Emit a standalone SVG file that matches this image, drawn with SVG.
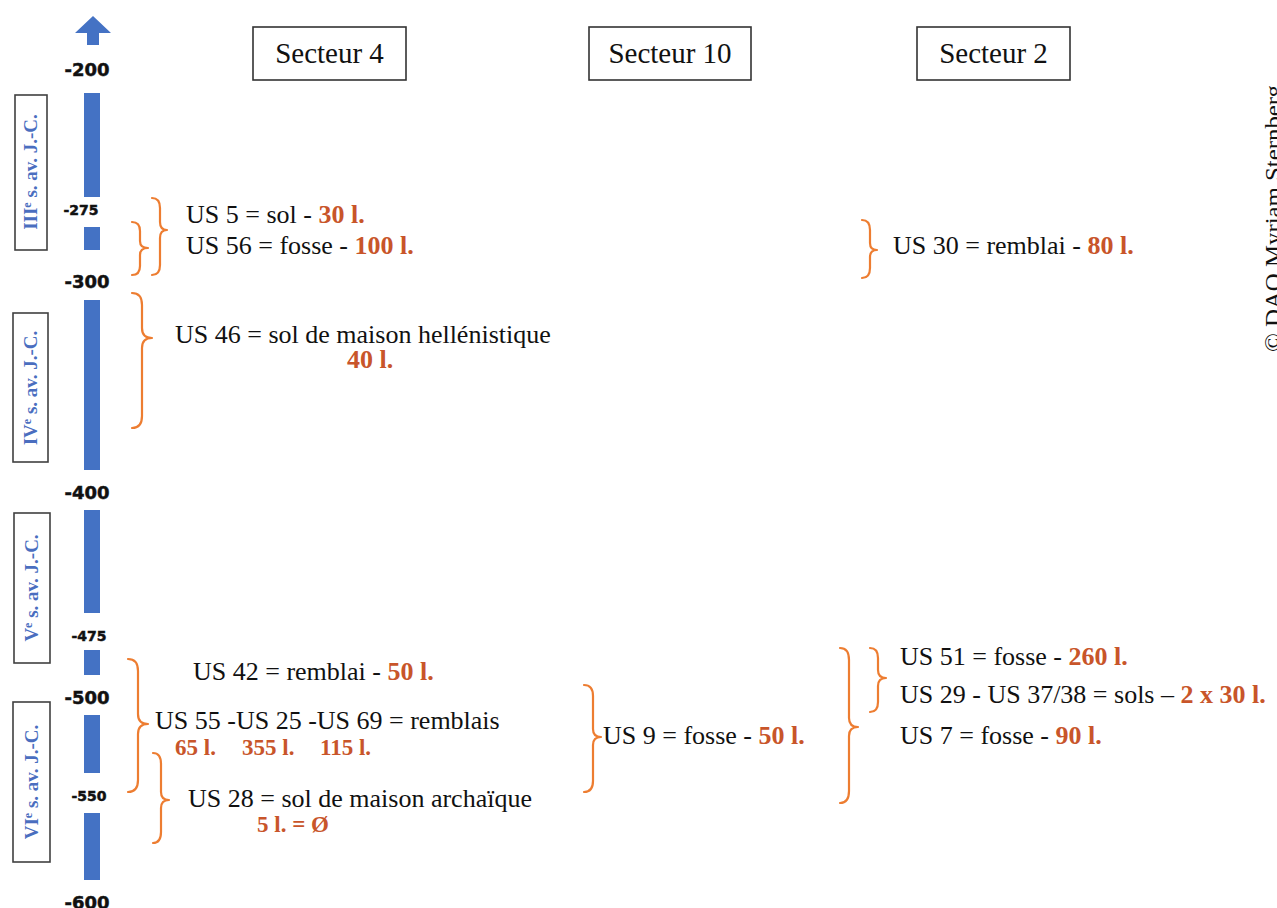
<svg xmlns="http://www.w3.org/2000/svg" width="1277" height="908" viewBox="0 0 1277 908">
<style>
.bg{fill:#ffffff}
.bar{fill:#4472c4}
.tick{font-family:"DejaVu Sans","Liberation Sans",sans-serif;font-weight:bold;fill:#111;stroke:#111;stroke-width:0.5;text-anchor:middle}
.tb{font-size:18px}
.ts{font-size:14px}
.pbox{fill:#fff;stroke:#404040;stroke-width:1.6}
.ptxt{font-family:"Liberation Serif",serif;font-weight:bold;font-size:19px;fill:#4a6ebf;text-anchor:middle}
.sbox{fill:#fff;stroke:#333;stroke-width:1.6}
.stxt{font-family:"Liberation Serif",serif;font-size:29px;fill:#111;text-anchor:middle}
.t{font-family:"Liberation Serif",serif;font-size:26px;fill:#111}
.o{font-family:"Liberation Serif",serif;font-size:26px;font-weight:bold;fill:#c8552a}
.os{font-size:23px}
.br{fill:none;stroke:#ed7d31;stroke-width:2.2;stroke-linecap:round;stroke-linejoin:round}
.cp{font-family:"Liberation Serif",serif;font-size:23px;fill:#111}
</style>
<rect class="bg" x="0" y="0" width="1277" height="908"/>

<g id="axis">
  <path class="bar" d="M87,45 L87,33 L75,33 L93,16 L111,33 L99,33 L99,45 Z"/>
  <rect class="bar" x="84" y="93" width="16" height="104"/>
  <rect class="bar" x="84" y="227" width="16" height="23"/>
  <rect class="bar" x="84" y="300" width="16" height="170"/>
  <rect class="bar" x="84" y="510" width="16" height="103"/>
  <rect class="bar" x="84" y="650" width="16" height="25"/>
  <rect class="bar" x="84" y="715" width="16" height="58"/>
  <rect class="bar" x="84" y="813" width="16" height="67"/>
  <text class="tick tb" x="87" y="76">-200</text>
  <text class="tick ts" x="81" y="215">-275</text>
  <text class="tick tb" x="87" y="288">-300</text>
  <text class="tick tb" x="87" y="499">-400</text>
  <text class="tick ts" x="89" y="641">-475</text>
  <text class="tick tb" x="87" y="704">-500</text>
  <text class="tick ts" x="89" y="801">-550</text>
  <text class="tick tb" x="87" y="909">-600</text>
</g>

<g id="period-3">
  <rect class="pbox" x="15" y="95" width="32" height="155"/>
  <text class="ptxt" transform="translate(37,172) rotate(-90)">III<tspan font-size="12" dy="-6">e</tspan><tspan dy="6"> s. av. J.-C.</tspan></text>
</g>
<g id="period-4">
  <rect class="pbox" x="13" y="313" width="35" height="149"/>
  <text class="ptxt" transform="translate(37,388) rotate(-90)">IV<tspan font-size="12" dy="-6">e</tspan><tspan dy="6"> s. av. J.-C.</tspan></text>
</g>
<g id="period-5">
  <rect class="pbox" x="14" y="513" width="36" height="150"/>
  <text class="ptxt" transform="translate(38,588) rotate(-90)">V<tspan font-size="12" dy="-6">e</tspan><tspan dy="6"> s. av. J.-C.</tspan></text>
</g>
<g id="period-6">
  <rect class="pbox" x="13" y="702" width="37" height="160"/>
  <text class="ptxt" transform="translate(38,782) rotate(-90)">VI<tspan font-size="12" dy="-6">e</tspan><tspan dy="6"> s. av. J.-C.</tspan></text>
</g>

<g id="secteur-4">
  <rect class="sbox" x="253" y="27" width="153" height="53"/>
  <text class="stxt" x="329.5" y="63">Secteur 4</text>
</g>
<g id="secteur-10">
  <rect class="sbox" x="589" y="27" width="162" height="53"/>
  <text class="stxt" x="670" y="63">Secteur 10</text>
</g>
<g id="secteur-2">
  <rect class="sbox" x="917" y="27" width="153" height="53"/>
  <text class="stxt" x="993.5" y="63">Secteur 2</text>
</g>

<g id="connectors">
  <path class="br" d="M152,198 Q160,198 160,208 L160,222 Q160,230 167,230 Q160,230 160,238 L160,265 Q160,275 152,275"/>
  <path class="br" d="M132,222 Q140,222 140,231 L140,241 Q140,248 148,248 Q140,248 140,255 L140,266 Q140,275 132,275"/>
  <path class="br" d="M132,293 Q142,293 142,305 L142,328 Q142,338 152,338 Q142,338 142,348 L142,416 Q142,428 132,428"/>
  <path class="br" d="M862,220 Q870,220 870,230 L870,243 Q870,250 877,250 Q870,250 870,257 L870,268 Q870,278 862,278"/>
  <path class="br" d="M128,659 Q138,659 138,671 L138,714 Q138,724 148,724 Q138,724 138,734 L138,780 Q138,792 128,792"/>
  <path class="br" d="M153,753 Q161,753 161,764 L161,792 Q161,800 169,800 Q161,800 161,808 L161,832 Q161,843 153,843"/>
  <path class="br" d="M584,685 Q593,685 593,696 L593,729 Q593,737 601,737 Q593,737 593,745 L593,781 Q593,792 584,792"/>
  <path class="br" d="M840,648 Q849,648 849,660 L849,718 Q849,727 858,727 Q849,727 849,736 L849,791 Q849,803 840,803"/>
  <path class="br" d="M870,648 Q878,648 878,658 L878,670 Q878,678 886,678 Q878,678 878,686 L878,702 Q878,712 870,712"/>
</g>

<g id="us5">
  <text class="t" x="186" y="223">US 5 = sol - <tspan class="o">30 l.</tspan></text>
</g>
<g id="us56">
  <text class="t" x="186" y="254">US 56 = fosse - <tspan class="o">100 l.</tspan></text>
</g>
<g id="us46">
  <text class="t" x="175" y="343">US 46 = sol de maison hellénistique</text>
  <text class="o" x="347" y="368">40 l.</text>
</g>
<g id="us30">
  <text class="t" x="893" y="254">US 30 = remblai - <tspan class="o">80 l.</tspan></text>
</g>
<g id="us42">
  <text class="t" x="193" y="680">US 42 = remblai - <tspan class="o">50 l.</tspan></text>
</g>
<g id="us55-25-69">
  <text class="t" x="155" y="729">US 55 -US 25 -US 69 = remblais</text>
  <text class="o os" x="175" y="755">65 l.</text>
  <text class="o os" x="242" y="755">355 l.</text>
  <text class="o os" x="320" y="755">115 l.</text>
</g>
<g id="us28">
  <text class="t" x="188" y="807">US 28 = sol de maison archaïque</text>
  <text class="o os" x="257" y="832">5 l. = Ø</text>
</g>
<g id="us9">
  <text class="t" x="603" y="744">US 9 = fosse - <tspan class="o">50 l.</tspan></text>
</g>
<g id="us51">
  <text class="t" x="900" y="665">US 51 = fosse - <tspan class="o">260 l.</tspan></text>
</g>
<g id="us29-37-38">
  <text class="t" x="900" y="703">US 29 - US 37/38 = sols – <tspan class="o">2 x 30 l.</tspan></text>
</g>
<g id="us7">
  <text class="t" x="900" y="744">US 7 = fosse - <tspan class="o">90 l.</tspan></text>
</g>

<g id="credit">
  <text class="cp" transform="translate(1281,352) rotate(-90)" textLength="267" lengthAdjust="spacingAndGlyphs">© DAO Myriam Sternberg</text>
</g>
</svg>
